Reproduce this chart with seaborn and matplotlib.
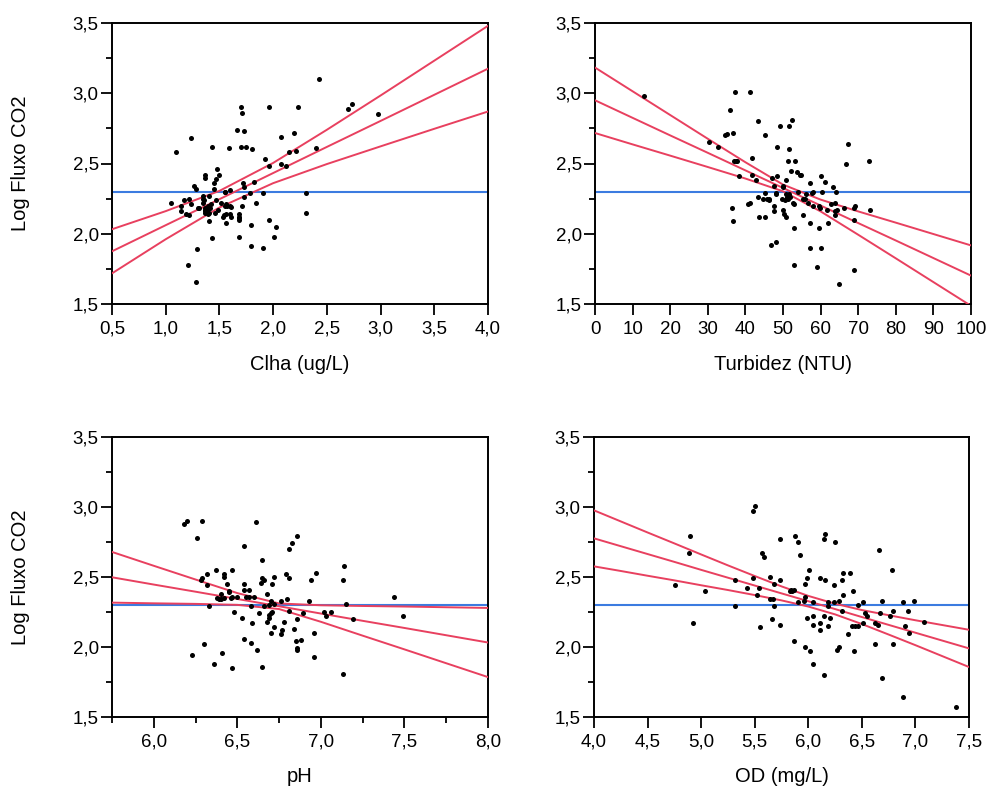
import matplotlib
matplotlib.use("Agg")
import matplotlib.pyplot as plt
import seaborn as sns
import pandas as pd
from matplotlib.ticker import MultipleLocator, FixedLocator, FuncFormatter

# ---------------- data ----------------
y_label = "Log Fluxo CO2"
mean_flux = 2.297

# Panel 1: Clha (ug/L)
clha_x = [1.05, 1.10, 1.14, 1.14, 1.17, 1.19, 1.21, 1.22, 1.22, 1.24, 1.24, 1.26, 1.28, 1.28, 1.29, 1.30, 1.31,
          1.35, 1.35, 1.35, 1.36, 1.37, 1.37, 1.37, 1.37, 1.37, 1.37, 1.38, 1.38, 1.39, 1.39, 1.40, 1.40, 1.40,
          1.41, 1.42, 1.43, 1.43, 1.45, 1.45, 1.46, 1.47, 1.47, 1.48, 1.49, 1.50, 1.51, 1.53, 1.54, 1.55, 1.55,
          1.55, 1.56, 1.56, 1.56, 1.57, 1.59, 1.60, 1.60, 1.60, 1.61, 1.61, 1.66, 1.68, 1.68, 1.68, 1.68, 1.68,
          1.70, 1.70, 1.71, 1.71, 1.72, 1.73, 1.73, 1.73, 1.75, 1.78, 1.79, 1.79, 1.80, 1.82, 1.84, 1.91, 1.91,
          1.92, 1.96, 1.96, 1.96, 2.01, 2.03, 2.07, 2.07, 2.12, 2.15, 2.19, 2.21, 2.23, 2.31, 2.31, 2.40, 2.43,
          2.70, 2.73, 2.98]
clha_y = [2.22, 2.58, 2.20, 2.16, 2.24, 2.14, 1.78, 2.25, 2.13, 2.68, 2.21, 2.34, 2.32, 1.66, 1.89, 2.18, 2.18,
          2.27, 2.25, 2.22, 2.24, 2.42, 2.40, 2.18, 2.17, 2.16, 2.15, 2.16, 2.17, 2.14, 2.20, 2.27, 2.09, 2.15,
          2.18, 2.21, 2.62, 1.97, 2.32, 2.36, 2.15, 2.39, 2.24, 2.46, 2.17, 2.42, 2.22, 2.12, 2.13, 2.30, 2.30,
          2.20, 2.08, 2.21, 2.14, 2.20, 2.61, 2.20, 2.31, 2.14, 2.12, 2.19, 2.74, 2.12, 2.11, 2.10, 1.98, 2.14,
          2.90, 2.62, 2.86, 2.20, 2.36, 2.26, 2.73, 2.33, 2.62, 2.29, 2.06, 1.91, 2.60, 2.37, 2.22, 2.29, 1.90,
          2.53, 2.48, 2.90, 2.10, 1.98, 2.05, 2.50, 2.69, 2.48, 2.58, 2.72, 2.59, 2.90, 2.29, 2.15, 2.61, 3.10,
          2.89, 2.92, 2.85]
clha_fit_x = [0.5, 1.0, 1.5, 2.0, 2.5, 3.0, 3.5, 4.0]
clha_fit = [1.875, 2.061, 2.246, 2.432, 2.618, 2.803, 2.989, 3.175]
clha_lo = [1.718, 1.961, 2.187, 2.360, 2.496, 2.622, 2.747, 2.870]
clha_hi = [2.032, 2.161, 2.305, 2.504, 2.740, 2.984, 3.232, 3.480]

# Panel 2: Turbidez (NTU)
turb_x = [13.1, 30.2, 32.7, 34.7, 35.1, 35.8, 36.4, 36.6, 36.7, 37.1, 37.3, 37.4, 37.7, 38.2, 40.6, 41.1, 41.3,
          41.7, 41.7, 42.8, 43.3, 43.3, 43.7, 44.7, 45.3, 45.3, 45.3, 45.8, 46.2, 46.2, 46.8, 47.2, 47.7, 47.7,
          47.7, 48.2, 48.2, 48.2, 48.3, 48.3, 49.2, 49.7, 50.1, 50.1, 50.1, 50.3, 50.4, 50.7, 50.8, 50.8, 51.0,
          51.2, 51.3, 51.5, 51.7, 51.7, 51.9, 52.2, 52.3, 52.6, 52.8, 52.8, 52.8, 53.2, 53.7, 54.1, 54.6, 54.7,
          55.3, 55.3, 55.9, 56.2, 56.6, 57.2, 57.2, 57.2, 57.7, 57.9, 58.1, 59.1, 59.5, 59.7, 59.9, 60.2, 60.3,
          60.2, 61.2, 61.7, 62.1, 62.7, 63.3, 63.7, 63.7, 63.9, 64.2, 64.3, 66.3, 66.7, 67.3, 68.8, 68.8, 68.9,
          69.2, 72.8, 73.2, 64.8]
turb_y = [2.98, 2.65, 2.62, 2.70, 2.71, 2.88, 2.18, 2.72, 2.09, 2.52, 3.01, 2.52, 2.52, 2.41, 2.21, 2.22, 3.01,
          2.54, 2.42, 2.38, 2.80, 2.26, 2.12, 2.25, 2.70, 2.29, 2.12, 2.25, 2.25, 2.24, 1.92, 2.40, 2.34, 2.20,
          2.16, 2.29, 2.28, 1.94, 2.62, 2.41, 2.77, 2.25, 2.34, 2.33, 2.17, 2.14, 2.24, 2.38, 2.12, 2.28, 2.26,
          2.52, 2.25, 2.28, 2.60, 2.77, 2.26, 2.45, 2.81, 2.22, 2.04, 2.21, 1.78, 2.52, 2.44, 2.30, 2.42, 2.42,
          2.25, 2.13, 2.25, 2.28, 2.22, 2.36, 2.08, 1.90, 2.29, 2.30, 2.20, 1.76, 2.20, 2.04, 2.18, 2.41, 2.30,
          1.90, 2.37, 2.17, 2.08, 2.21, 2.33, 2.22, 2.13, 2.16, 2.30, 2.17, 2.18, 2.50, 2.64, 2.18, 2.10, 1.74,
          2.20, 2.52, 2.17, 1.64]
turb_fit_x = [0, 10, 20, 30, 40, 50, 60, 70, 80, 90, 100]
turb_fit = [2.950, 2.825, 2.700, 2.576, 2.451, 2.326, 2.201, 2.076, 1.952, 1.827, 1.702]
turb_lo = [2.717, 2.636, 2.556, 2.475, 2.393, 2.302, 2.159, 1.993, 1.825, 1.656, 1.487]
turb_hi = [3.183, 3.014, 2.845, 2.676, 2.509, 2.350, 2.243, 2.159, 2.079, 1.998, 1.917]

# Panel 3: pH
ph_x = [6.18, 6.20, 6.23, 6.26, 6.28, 6.29, 6.29, 6.30, 6.32, 6.32, 6.33, 6.36, 6.37, 6.38, 6.39, 6.40, 6.40,
        6.41, 6.42, 6.42, 6.42, 6.44, 6.45, 6.45, 6.46, 6.47, 6.47, 6.47, 6.48, 6.50, 6.53, 6.54, 6.54, 6.54,
        6.54, 6.55, 6.57, 6.57, 6.58, 6.58, 6.59, 6.60, 6.61, 6.62, 6.63, 6.64, 6.65, 6.65, 6.65, 6.66, 6.66,
        6.68, 6.68, 6.69, 6.69, 6.69, 6.70, 6.70, 6.70, 6.71, 6.71, 6.72, 6.72, 6.72, 6.76, 6.76, 6.77, 6.78,
        6.79, 6.80, 6.81, 6.81, 6.81, 6.83, 6.84, 6.85, 6.86, 6.86, 6.86, 6.86, 6.88, 6.89, 6.93, 6.94, 6.96,
        6.96, 6.97, 7.02, 7.03, 7.06, 7.13, 7.13, 7.14, 7.15, 7.19, 7.44, 7.49]
ph_y = [2.88, 2.90, 1.94, 2.78, 2.48, 2.49, 2.90, 2.02, 2.44, 2.52, 2.29, 1.88, 2.55, 2.35, 2.34, 2.34, 2.38,
        1.96, 2.52, 2.50, 2.35, 2.45, 2.40, 2.39, 2.35, 1.85, 2.55, 2.36, 2.25, 2.36, 2.21, 2.72, 2.45, 2.06,
        2.41, 2.36, 2.41, 2.36, 2.03, 2.29, 2.17, 2.36, 2.89, 1.98, 2.24, 2.46, 2.62, 2.49, 1.86, 2.29, 2.48,
        2.38, 2.18, 2.21, 2.30, 2.23, 2.10, 2.33, 2.24, 2.45, 2.25, 2.50, 2.14, 2.31, 2.09, 2.33, 2.12, 2.18,
        2.52, 2.34, 2.49, 2.70, 2.26, 2.74, 2.13, 2.04, 2.20, 1.99, 2.79, 1.98, 2.05, 2.24, 2.33, 2.48, 2.10,
        1.93, 2.53, 2.25, 2.22, 2.25, 2.48, 1.81, 2.58, 2.31, 2.20, 2.36, 2.22]
ph_fit_x = [5.75, 6.0, 6.25, 6.5, 6.75, 7.0, 7.25, 7.5, 7.75, 8.0]
ph_fit = [2.498, 2.446, 2.395, 2.343, 2.291, 2.239, 2.187, 2.136, 2.084, 2.032]
ph_lo = [2.317, 2.312, 2.308, 2.301, 2.271, 2.180, 2.081, 1.983, 1.884, 1.785]
ph_hi = [2.679, 2.580, 2.482, 2.385, 2.311, 2.298, 2.293, 2.289, 2.284, 2.279]

# Panel 4: OD (mg/L)
od_x = [4.76, 4.89, 4.90, 4.92, 5.04, 5.32, 5.32, 5.43, 5.48, 5.48, 5.50, 5.52, 5.54, 5.55, 5.57, 5.59, 5.64,
        5.64, 5.66, 5.67, 5.68, 5.68, 5.74, 5.74, 5.74, 5.83, 5.84, 5.85, 5.87, 5.87, 5.88, 5.90, 5.90, 5.92,
        5.96, 5.97, 5.97, 5.97, 5.99, 5.99, 6.01, 6.02, 6.04, 6.04, 6.04, 6.04, 6.11, 6.11, 6.11, 6.15, 6.15,
        6.15, 6.16, 6.16, 6.18, 6.18, 6.18, 6.20, 6.24, 6.24, 6.25, 6.27, 6.29, 6.29, 6.31, 6.31, 6.32, 6.32,
        6.37, 6.39, 6.41, 6.42, 6.43, 6.44, 6.46, 6.46, 6.51, 6.51, 6.53, 6.55, 6.62, 6.62, 6.65, 6.66, 6.67,
        6.69, 6.69, 6.76, 6.78, 6.79, 6.79, 6.88, 6.88, 6.90, 6.93, 6.94, 6.99, 7.08, 7.38]
od_y = [2.44, 2.67, 2.79, 2.17, 2.40, 2.48, 2.29, 2.42, 2.49, 2.97, 3.01, 2.37, 2.42, 2.14, 2.67, 2.64, 2.50,
        2.34, 2.20, 2.34, 2.29, 2.45, 2.77, 2.48, 2.16, 2.40, 2.41, 2.40, 2.41, 2.04, 2.79, 2.32, 2.75, 2.66,
        2.33, 2.45, 2.36, 2.00, 2.49, 2.21, 2.55, 1.97, 2.32, 2.22, 2.16, 1.88, 2.17, 2.49, 2.12, 2.22, 2.77,
        1.80, 2.81, 2.48, 2.29, 2.15, 2.32, 2.21, 2.44, 2.32, 2.75, 1.98, 2.33, 2.00, 2.48, 2.26, 2.37, 2.53,
        2.09, 2.53, 2.15, 2.40, 1.97, 2.15, 2.30, 2.15, 2.32, 2.17, 2.24, 2.22, 2.17, 2.02, 2.16, 2.69, 2.24,
        2.33, 1.78, 2.22, 2.55, 2.26, 2.02, 2.32, 1.64, 2.15, 2.26, 2.10, 2.33, 2.18, 1.57]
od_fit_x = [4.0, 4.25, 4.5, 4.75, 5.0, 5.25, 5.5, 5.75, 6.0, 6.25, 6.5, 6.75, 7.0, 7.25, 7.5]
od_fit = [2.776, 2.720, 2.664, 2.608, 2.551, 2.495, 2.439, 2.383, 2.327, 2.271, 2.214, 2.158, 2.102, 2.046, 1.990]
od_lo = [2.576, 2.543, 2.509, 2.476, 2.441, 2.407, 2.371, 2.333, 2.289, 2.233, 2.164, 2.089, 2.013, 1.935, 1.857]
od_hi = [2.976, 2.897, 2.818, 2.740, 2.661, 2.583, 2.507, 2.433, 2.365, 2.309, 2.264, 2.227, 2.191, 2.157, 2.123]

x_labels = ["Clha (ug/L)", "Turbidez (NTU)", "pH", "OD (mg/L)"]

# ---------------- style ----------------
sns.set_theme(style="ticks")
plt.rcParams["font.family"] = ["Liberation Sans", "DejaVu Sans"]
plt.rcParams["axes.linewidth"] = 1.4

RED = "#E8405F"
BLUE = "#3C7BE0"


def comma_fmt(v, pos):
    return f"{v:.1f}".replace(".", ",")


def int_fmt(v, pos):
    return f"{v:.0f}"


fig = plt.figure(figsize=(9.88, 7.88), dpi=100)

panels = [
    dict(rect=[112 / 988, 1 - 304 / 788, 376 / 988, 281 / 788], x=clha_x, y=clha_y,
         fx=clha_fit_x, f=clha_fit, lo=clha_lo, hi=clha_hi, xlim=(0.5, 4.0),
         major=[0.5, 1.0, 1.5, 2.0, 2.5, 3.0, 3.5, 4.0], minor=[], fmt=comma_fmt, ylab=True, xl_y=-0.217),
    dict(rect=[595 / 988, 1 - 304 / 788, 376 / 988, 281 / 788], x=turb_x, y=turb_y,
         fx=turb_fit_x, f=turb_fit, lo=turb_lo, hi=turb_hi, xlim=(0, 100),
         major=list(range(0, 101, 10)), minor=[], fmt=int_fmt, ylab=False, xl_y=-0.217),
    dict(rect=[112 / 988, 1 - 717 / 788, 376 / 988, 280 / 788], x=ph_x, y=ph_y,
         fx=ph_fit_x, f=ph_fit, lo=ph_lo, hi=ph_hi, xlim=(5.75, 8.0),
         major=[6.0, 6.5, 7.0, 7.5, 8.0], minor=[5.75, 6.25, 6.75, 7.25, 7.75], fmt=comma_fmt, ylab=True,
         xl_y=-0.212),
    dict(rect=[594 / 988, 1 - 717 / 788, 375 / 988, 280 / 788], x=od_x, y=od_y,
         fx=od_fit_x, f=od_fit, lo=od_lo, hi=od_hi, xlim=(4.0, 7.5),
         major=[4.0, 4.5, 5.0, 5.5, 6.0, 6.5, 7.0, 7.5], minor=[], fmt=comma_fmt, ylab=False, xl_y=-0.212),
]

for p, xl in zip(panels, x_labels):
    ax = fig.add_axes(p["rect"])
    ax.axhline(mean_flux, color=BLUE, lw=1.5, zorder=2)
    for ys in (p["lo"], p["f"], p["hi"]):
        sns.lineplot(x=p["fx"], y=ys, ax=ax, color=RED, lw=1.4, estimator=None,
                     sort=False, zorder=3)
    sns.scatterplot(x=p["x"], y=p["y"], ax=ax, color="black", s=13, marker="o",
                    linewidth=0, zorder=4)
    ax.set_xlim(*p["xlim"])
    ax.set_ylim(1.5, 3.5)
    ax.xaxis.set_major_locator(FixedLocator(p["major"]))
    if p["minor"]:
        ax.xaxis.set_minor_locator(FixedLocator(p["minor"]))
    ax.xaxis.set_major_formatter(FuncFormatter(p["fmt"]))
    ax.yaxis.set_major_locator(MultipleLocator(0.5))
    ax.yaxis.set_minor_locator(MultipleLocator(0.25))
    ax.yaxis.set_major_formatter(FuncFormatter(comma_fmt))
    ax.tick_params(axis="both", which="major", length=8, width=1.3, direction="out",
                   labelsize=13.5, colors="black")
    ax.tick_params(axis="x", which="major", pad=4)
    ax.tick_params(axis="y", which="major", pad=1.5)
    ax.tick_params(axis="both", which="minor", length=4.5, width=1.3, direction="out", colors="black")
    for s in ax.spines.values():
        s.set_visible(True)
        s.set_color("black")
        s.set_linewidth(1.4)
    ax.set_xlabel(xl, fontsize=14.5, color="black")
    ax.xaxis.set_label_coords(0.5, p["xl_y"])
    ax.xaxis.label.set_va("center")
    if p["ylab"]:
        ax.set_ylabel(y_label, fontsize=14.5, color="black")
        ax.yaxis.set_label_coords(-0.243, 0.5)
        ax.yaxis.label.set_va("center")
    else:
        ax.set_ylabel("")
    ax.grid(False)
    ax.set_facecolor("white")

fig.patch.set_facecolor("white")
fig.savefig("out.png", dpi=100, facecolor="white")
